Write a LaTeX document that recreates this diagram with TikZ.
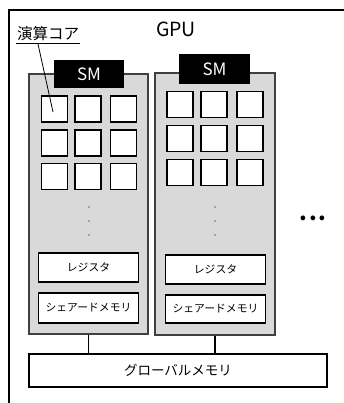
\documentclass[tikz,border=0pt]{standalone}
\usepackage{fontspec}
\setmainfont{Noto Sans CJK JP}
\begin{document}
\begin{tikzpicture}[x=1pt,y=-1pt,
  smbox/.style={draw=black!75, line width=1.3pt, fill=black!15},
  tab/.style={fill=black, text=white, font=\fontsize{17}{17}\selectfont, inner sep=0pt},
  core/.style={draw=black, line width=1.8pt, fill=white, minimum width=26pt, minimum height=26pt, inner sep=0pt},
  membox/.style={draw=black, line width=1.5pt, fill=white, minimum width=100pt, inner sep=0pt, font=\fontsize{10.8}{10.8}\selectfont},
  dot/.style={circle, fill=black, inner sep=0pt, minimum size=1.2pt},
  link/.style={line width=1.5pt}]
\useasboundingbox (0,0) rectangle (344,403);
\clip (0,0) rectangle (344,403);
\fill[white] (0,0) rectangle (344,403);
% GPU frame (cut off at right and bottom)
\draw[line width=1.5pt] (9,420) -- (9,10) -- (360,10);
\node (gpu) at (176,29) {\fontsize{19.5}{19.5}\selectfont GPU};
% SM boxes
\node[smbox, minimum width=119pt, minimum height=260pt, inner sep=0pt] (sm1) at (88.5,204) {};
\node[smbox, minimum width=120pt, minimum height=262pt, inner sep=0pt] (sm2) at (215,204) {};
\node[tab, minimum width=70pt, minimum height=28pt] (tab1) at (89,74) {SM};
\node[tab, minimum width=71pt, minimum height=30pt] (tab2) at (214.5,69) {SM};
% cores SM1
\foreach \c/\x in {1/54.5,2/88,3/123.5}{
  \foreach \r/\y in {1/109,2/143,3/176.5}{
    \node[core] (a\r\c) at (\x,\y) {};
  }
}
% cores SM2
\foreach \c/\x in {1/180,2/214,3/250}{
  \foreach \r/\y in {1/104.5,2/138.5,3/172.5}{
    \node[core] (b\r\c) at (\x,\y) {};
  }
}
% vertical dots
\foreach \i/\y in {1/207,2/221,3/235}{
  \node[dot] (da\i) at (89,\y) {};
  \node[dot] (db\i) at (215,\y) {};
}
% registers and shared memory
\node[membox, minimum height=29pt] (reg1) at (88.5,267.5) {レジスタ};
\node[membox, minimum height=29pt] (reg2) at (215.5,269.5) {レジスタ};
\node[membox, minimum height=30pt] (sh1) at (88.5,308) {シェアードメモリ};
\node[membox, minimum height=28pt] (sh2) at (215.5,309) {シェアードメモリ};
% global memory
\node[draw=black, line width=1.5pt, fill=white, minimum width=298pt, minimum height=33pt, inner sep=0pt, font=\fontsize{13.5}{13.5}\selectfont] (glob) at (178,370.5) {グローバルメモリ};
\draw[link] (sm1.south -| reg1) -- (glob.north -| reg1);
\draw[link] (sm2.south) -- (glob.north -| sm2.south);
% ellipsis
\node[inner sep=0pt] (more) at (313,218) {\fontsize{22}{22}\selectfont\bfseries .\kern1.5pt.\kern1.5pt.};
% label for core
\node[inner sep=0pt, anchor=south] (lbl) at (48,41) {\fontsize{15.5}{15.5}\selectfont 演算コア};
\draw[line width=1pt] (16,43.5) -- (80,43.5);
\coordinate (lead) at (38,44);
\coordinate (tip) at (53,112);
\draw[line width=0.8pt] (lead) -- (tip);
\end{tikzpicture}
\end{document}
